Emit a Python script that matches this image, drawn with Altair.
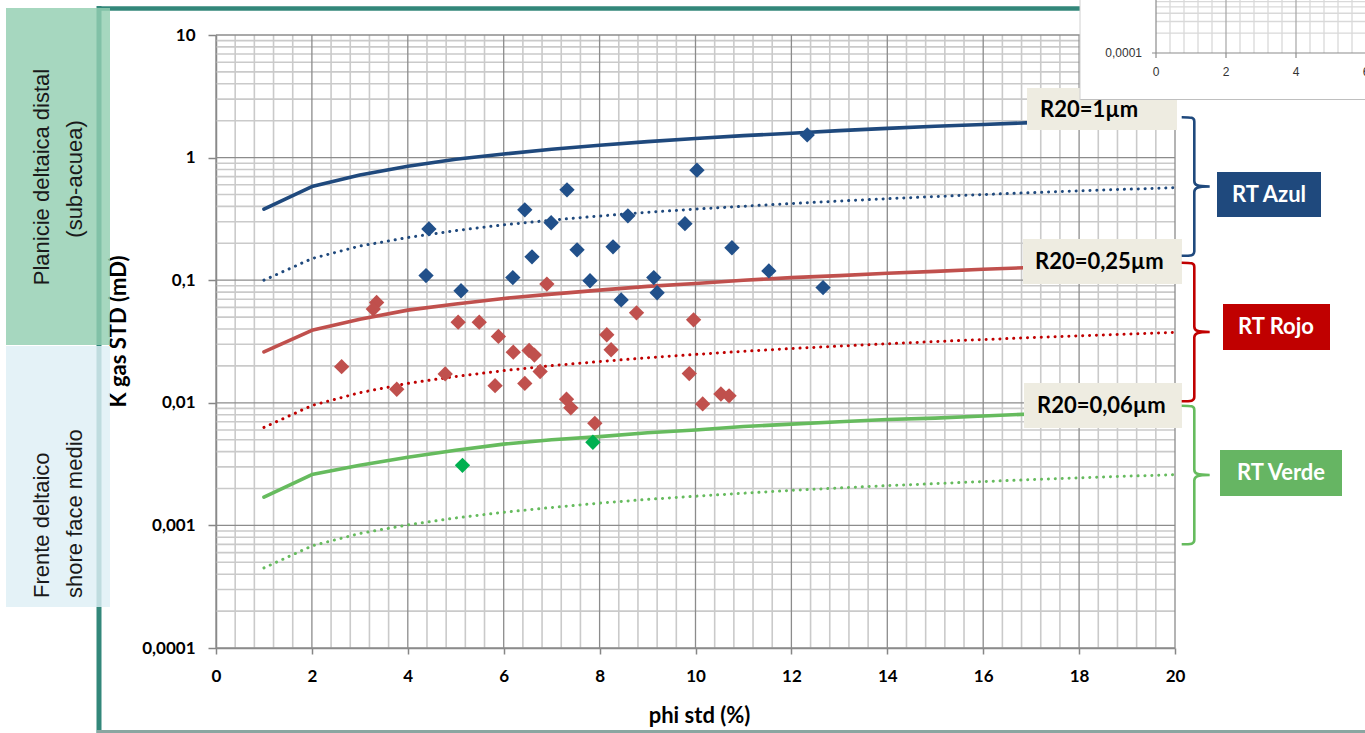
import altair as alt
import pandas as pd

# ---------------------------------------------------------------- data
PHI_CURVA = list(range(1, 21))

# R20 iso-lines (solid) and class lower limits (dotted), k in mD
K_AZUL_R20 = [0.38, 0.58, 0.72, 0.85, 0.97, 1.07, 1.17, 1.26, 1.35, 1.43,
              1.51, 1.58, 1.66, 1.73, 1.80, 1.86, 1.93, 1.99, 2.05, 2.11]
K_AZUL_LIM = [0.100, 0.150, 0.190, 0.223, 0.254, 0.283, 0.309, 0.334, 0.358, 0.380,
              0.401, 0.422, 0.442, 0.462, 0.481, 0.500, 0.517, 0.535, 0.552, 0.568]
K_ROJO_R20 = [0.026, 0.039, 0.048, 0.057, 0.064, 0.071, 0.077, 0.083, 0.089, 0.094,
              0.100, 0.105, 0.109, 0.114, 0.118, 0.123, 0.127, 0.131, 0.135, 0.139]
K_ROJO_LIM = [0.0063, 0.0095, 0.0121, 0.0144, 0.0164, 0.0183, 0.0201, 0.0217, 0.0233, 0.0248,
              0.0263, 0.0277, 0.0290, 0.0303, 0.0316, 0.0328, 0.0340, 0.0352, 0.0363, 0.0375]
K_VERDE_R20 = [0.0017, 0.0026, 0.0031, 0.0036, 0.0041, 0.0046, 0.0050, 0.0053, 0.0057, 0.0060,
               0.0064, 0.0067, 0.0070, 0.0073, 0.0075, 0.0078, 0.0081, 0.0083, 0.0086, 0.0088]
K_VERDE_LIM = [0.00045, 0.00068, 0.00086, 0.00101, 0.00115, 0.00128, 0.00140, 0.00152, 0.00163, 0.00173,
               0.00183, 0.00193, 0.00202, 0.00211, 0.00219, 0.00228, 0.00236, 0.00244, 0.00252, 0.00259]

# samples (phi std %, k gas std mD)
PHI_AZUL = [4.44, 4.38, 5.11, 6.44, 6.19, 6.59, 7.32, 6.99, 7.53, 7.80, 8.28,
            8.59, 8.45, 9.13, 9.20, 10.03, 9.78, 10.76, 11.53, 12.33, 12.66]
K_AZUL = [0.262, 0.109, 0.082, 0.375, 0.105, 0.155, 0.546, 0.294, 0.177, 0.099, 0.187,
          0.335, 0.069, 0.105, 0.079, 0.79, 0.289, 0.184, 0.119, 1.53, 0.087]

PHI_ROJO = [3.35, 3.28, 6.90, 5.05, 5.49, 5.89, 6.20, 6.53, 6.64, 8.77, 9.96, 8.15, 8.24,
            2.62, 4.78, 6.76, 3.77, 5.82, 6.44, 7.31, 7.40, 7.90, 9.87, 10.15, 10.53, 10.70]
K_ROJO = [0.0658, 0.0581, 0.0929, 0.0455, 0.0455, 0.0348, 0.0259, 0.0267, 0.0245, 0.0542,
          0.0475, 0.0359, 0.0271, 0.0197, 0.0172, 0.0180, 0.0129, 0.0138, 0.0144, 0.0107,
          0.0091, 0.0068, 0.0173, 0.0098, 0.0118, 0.0114]

PHI_VERDE = [5.14, 7.86]
K_VERDE = [0.00309, 0.00477]

# axes ticks
X_MAJOR = list(range(0, 21, 2))
X_MINOR = [round(i * 0.4, 1) for i in range(51) if i % 5 != 0]
Y_MAJOR = [1e-4, 1e-3, 1e-2, 1e-1, 1, 10]
Y_MINOR = [m * 10 ** e for e in range(-4, 1) for m in range(2, 10)]

# small detached plot corner (top right)
INSET_X_MAJOR = [0, 2, 4, 6]
INSET_X_LABELS = ["0", "2", "4", "6"]
INSET_X_MINOR = [round(i * 0.4, 1) for i in range(17) if i % 5 != 0]
INSET_Y_MINOR = [m * 1e-4 for m in range(2, 10)]

# ---------------------------------------------------------------- layout
W, H = 959, 613
PAD = {"left": 216, "top": 35, "right": 190, "bottom": 85}


def px(x):
    """canvas x -> plot-area x"""
    return x - PAD["left"]


def py(y):
    """canvas y -> plot-area y"""
    return y - PAD["top"]


ONE = alt.Data(values=[{"k": 0}])
FONT = "Lato"
TEAL = "#33877A"

AZUL, ROJO, ROJO_OSC, VERDE, VERDE_PT = "#1F497D", "#C0504D", "#C00000", "#66BB5E", "#00B050"

X_SCALE = alt.Scale(domain=[0, 20], nice=False, zero=False)
Y_SCALE = alt.Scale(type="log", domain=[1e-4, 10], nice=False)

X_AXIS = alt.Axis(
    values=X_MAJOR, format="d", grid=False, title="phi std (%)",
    labelPadding=14, tickSize=6,
    titleX=483, titleY=67, titleBaseline="middle", titleAlign="center",
)
Y_AXIS = alt.Axis(
    values=Y_MAJOR, grid=False, title="K gas STD (mD)",
    labelExpr="replace(format(datum.value, '~r'), '.', ',')",
    labelPadding=13, tickSize=8,
    titleAngle=270, titleX=-98, titleY=296, titleBaseline="middle", titleAlign="center",
)


def xq(field):
    return alt.X(field, type="quantitative", scale=X_SCALE, axis=X_AXIS)


def yq(field):
    return alt.Y(field, type="quantitative", scale=Y_SCALE, axis=Y_AXIS)


# ---------------------------------------------------------------- frame & side boxes
def hline(x1, x2, y, color, w):
    return alt.Chart(ONE).mark_rule(color=color, strokeWidth=w).encode(
        x=alt.value(px(x1)), x2=alt.value(px(x2)), y=alt.value(py(y)))


def vline(x, y1, y2, color, w):
    return alt.Chart(ONE).mark_rule(color=color, strokeWidth=w).encode(
        x=alt.value(px(x)), y=alt.value(py(y1)), y2=alt.value(py(y2)))


def box(x1, x2, y1, y2, color, opacity=1.0):
    return alt.Chart(ONE).mark_rect(color=color, opacity=opacity).encode(
        x=alt.value(px(x1)), x2=alt.value(px(x2)), y=alt.value(py(y1)), y2=alt.value(py(y2)))


def label(x, y, text, size=22, color="black", weight="bold", font=FONT,
          align="center", angle=0):
    return alt.Chart(ONE).mark_text(
        text=text, font=font, fontSize=size, fontWeight=weight, color=color,
        align=align, baseline="middle", angle=angle,
    ).encode(x=alt.value(px(x)), y=alt.value(py(y)))


frame = [
    hline(97, 1365, 8.5, TEAL, 4.5),
    vline(99, 6, 733, TEAL, 5),
    hline(97, 1365, 731.5, "#8AA6A1", 3),
]

side = [
    box(6, 110, 8, 345, "#93CEB1", 0.82),
    box(6, 110, 346, 607, "#DEEFF5", 0.82),
    label(42, 177, "Planicie deltaica distal", color="#1A1A1A",
          weight="normal", font="Liberation Sans", angle=270),
    label(75, 179, "(sub-acuea)", color="#1A1A1A",
          weight="normal", font="Liberation Sans", angle=270),
    label(42, 598, "Frente deltaico", color="#1A1A1A",
          weight="normal", font="Liberation Sans", align="left", angle=270),
    label(75, 598, "shore face medio", color="#1A1A1A",
          weight="normal", font="Liberation Sans", align="left", angle=270),
]

# ---------------------------------------------------------------- grid
grid = [
    alt.Chart(pd.DataFrame({"phi": X_MINOR})).mark_rule(color="#CACACA", strokeWidth=1.6)
    .encode(x=xq("phi")),
    alt.Chart(pd.DataFrame({"k": Y_MINOR})).mark_rule(color="#CACACA", strokeWidth=1.6)
    .encode(y=yq("k")),
    alt.Chart(pd.DataFrame({"phi": X_MAJOR})).mark_rule(color="#8C8C8C", strokeWidth=1.3)
    .encode(x=xq("phi")),
    alt.Chart(pd.DataFrame({"k": Y_MAJOR})).mark_rule(color="#8C8C8C", strokeWidth=1.3)
    .encode(y=yq("k")),
]

# ---------------------------------------------------------------- curves & samples
CURVAS = [
    ("azul_r20", "solid", K_AZUL_R20, AZUL), ("azul_lim", "dotted", K_AZUL_LIM, AZUL),
    ("rojo_r20", "solid", K_ROJO_R20, ROJO), ("rojo_lim", "dotted", K_ROJO_LIM, ROJO_OSC),
    ("verde_r20", "solid", K_VERDE_R20, VERDE), ("verde_lim", "dotted", K_VERDE_LIM, VERDE),
]


def curva(ks, estilo, color):
    df = pd.DataFrame({"phi": PHI_CURVA, "k": ks})
    if estilo == "solid":
        mark = alt.Chart(df).mark_line(color=color, strokeWidth=3.6,
                                       strokeCap="round", strokeJoin="round")
    else:
        mark = alt.Chart(df).mark_line(color=color, strokeWidth=3,
                                       strokeDash=[0.1, 6.8], strokeCap="round")
    return mark.encode(x=xq("phi"), y=yq("k"), order="phi:Q")


lineas = [curva(ks, est, col) for _, est, ks, col in CURVAS]


def diamantes(phis, ks, color):
    df = pd.DataFrame({"phi": phis, "k": ks})
    return alt.Chart(df).mark_point(
        shape="diamond", filled=True, size=235, opacity=1, color=color
    ).encode(x=xq("phi"), y=yq("k"))


puntos = [
    diamantes(PHI_AZUL, K_AZUL, "#21508A"),
    diamantes(PHI_ROJO, K_ROJO, ROJO),
    diamantes(PHI_VERDE, K_VERDE, VERDE_PT),
]

# ---------------------------------------------------------------- R20 tags, braces, RT boxes
BEIGE = "#EEECE1"
r20 = [
    box(1027, 1177, 88, 130, BEIGE), label(1040, 110, "R20=1µm", align="left"),
    box(1023, 1182, 239, 284, BEIGE), label(1035, 262, "R20=0,25µm", align="left"),
    box(1024, 1182, 383, 428, BEIGE), label(1037, 406, "R20=0,06µm", align="left"),
]

BRACE = ("M-0.19,-0.99 C-0.05,-0.99 -0.01,-0.985 -0.01,-0.93 L-0.01,-0.08 "
         "C-0.01,-0.02 0.03,0 0.21,0 C0.03,0 -0.01,0.02 -0.01,0.08 L-0.01,0.93 "
         "C-0.01,0.985 -0.05,0.99 -0.19,0.99")


def brace(y, color):
    return alt.Chart(ONE).mark_point(
        shape=BRACE, filled=False, size=19600, strokeWidth=2.6, color=color, opacity=1
    ).encode(x=alt.value(px(1195)), y=alt.value(py(y)))


rt = [
    brace(186.5, AZUL), brace(332, ROJO_OSC), brace(475, VERDE),
    box(1217, 1321, 172, 217, AZUL), label(1269, 195, "RT Azul", color="white"),
    box(1223, 1330, 304, 350, ROJO_OSC), label(1276, 327, "RT Rojo", color="white"),
    box(1220, 1342, 450, 496, "#66B563"), label(1281, 473, "RT Verde", color="white"),
]

main = alt.layer(*frame, *side, *grid, *lineas, *puntos, *r20, *rt)

# ---------------------------------------------------------------- detached plot corner
IX = alt.Scale(domain=[0, 6], range=[px(1156), px(1366)], nice=False, zero=False)
IY = alt.Scale(type="log", domain=[1e-4, 1e-3], range=[py(53), py(53) - 66], nice=False)


def ix(field):
    return alt.X(field, type="quantitative", scale=IX, axis=None)


def iy(field):
    return alt.Y(field, type="quantitative", scale=IY, axis=None)


v_minor = pd.DataFrame({"x": INSET_X_MINOR, "y": 1e-4, "y2": 1e-3})
v_major = pd.DataFrame({"x": INSET_X_MAJOR[1:], "y": 1e-4, "y2": 1e-3})
h_minor = pd.DataFrame({"y": INSET_Y_MINOR, "x": 0.0, "x2": 6.4})
y_axis_line = pd.DataFrame({"x": [0.0], "y": [1e-4], "y2": [1e-3]})
x_axis_line = pd.DataFrame({"x": [-0.114], "x2": [6.4], "y": [1e-4]})
x_ticks = pd.DataFrame({"x": INSET_X_MAJOR, "t": INSET_X_LABELS})
y_tick_lbl = pd.DataFrame({"x": [-0.4], "y": [1e-4], "t": ["0,0001"]})

inset = alt.layer(
    box(1080, 1366, -1, 99, "white"),
    hline(1080, 1366, 99.5, "#BFBFBF", 1),
    vline(1080, 0, 100, "#D0D0D0", 1),
    alt.Chart(v_minor).mark_rule(color="#D9D9D9", strokeWidth=1.3).encode(
        x=ix("x"), y=iy("y"), y2="y2"),
    alt.Chart(h_minor).mark_rule(color="#D9D9D9", strokeWidth=1.3).encode(
        x=ix("x"), x2="x2", y=iy("y")),
    alt.Chart(v_major).mark_rule(color="#A6A6A6", strokeWidth=1.2).encode(
        x=ix("x"), y=iy("y"), y2="y2"),
    alt.Chart(y_axis_line).mark_rule(color="#8C8C8C", strokeWidth=1.2).encode(
        x=ix("x"), y=iy("y"), y2="y2"),
    alt.Chart(x_axis_line).mark_rule(color="#8C8C8C", strokeWidth=1.2).encode(
        x=ix("x"), x2="x2", y=iy("y")),
    alt.Chart(x_ticks).mark_rule(color="#8C8C8C", strokeWidth=1.2).encode(
        x=ix("x"), y=alt.value(py(53)), y2=alt.value(py(58))),
    alt.Chart(x_ticks).mark_text(
        font="Liberation Sans", fontSize=12, color="#333333", baseline="middle"
    ).encode(x=ix("x"), y=alt.value(py(72)), text="t:N"),
    alt.Chart(y_tick_lbl).mark_text(
        font="Liberation Sans", fontSize=12, color="#333333", align="right", baseline="middle"
    ).encode(x=ix("x"), y=iy("y"), text="t:N"),
)

chart = (
    alt.layer(main, inset)
    .resolve_scale(x="independent", y="independent")
    .properties(width=W, height=H, padding=PAD, autosize=alt.AutoSizeParams(type="none"),
                background="white")
    .configure_view(stroke=None)
    .configure_axis(
        labelFont=FONT, labelFontSize=17, labelFontWeight="bold", labelColor="black",
        labelFlush=False,
        tickColor="#868686", tickWidth=1.5,
        domainColor="#868686", domainWidth=1.5,
        titleFont=FONT, titleFontSize=22, titleFontWeight="bold", titleColor="black",
    )
)

chart.save("out.html", embed_options={"renderer": "svg", "actions": False})
